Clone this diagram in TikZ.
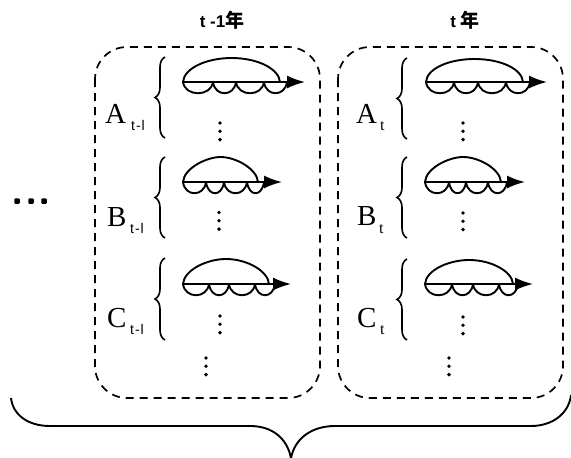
\documentclass[tikz,border=0pt]{standalone}
\usepackage{fontspec}
\setmainfont{Liberation Serif}
\newfontfamily\cjk{Noto Sans CJK SC}
\newfontfamily\hd{Liberation Sans}
\usetikzlibrary{decorations.pathreplacing,arrows.meta}
\tikzset{
  ink/.style={draw=black,line width=1.9pt},
  groupbox/.style={draw=black,line width=1.7pt,dash pattern=on 8pt off 6pt,rounded corners=32pt},
  bracemark/.style={draw=black,line width=1.6pt,decorate,decoration={brace,amplitude=10pt,mirror}},
  lab/.style={inner sep=0pt,font=\fontsize{29}{29}\selectfont,anchor=base west},
  sub/.style={inner sep=0pt,font=\hd\fontsize{14}{14}\selectfont,anchor=base west},
  subt/.style={inner sep=0pt,font=\fontsize{16}{16}\selectfont,anchor=base west},
  head/.style={inner sep=0pt,font=\hd\bfseries\fontsize{17}{17}\selectfont,anchor=center},
  dotm/.style={circle,fill=black,inner sep=0pt,minimum size=3.8pt},
  heavydot/.style={rectangle,rounded corners=1pt,fill=black,inner sep=0pt,minimum size=5.5pt}
}
\newcommand{\loopset}[6]{
  \draw[ink,-{Latex[length=18pt,width=13pt]}] (#1,#2) -- (#5,#2);
  \draw[ink] (#1,#2) .. controls (#1+1,#2-14) and (#1+24,#4) .. ({(#1+#3)/2},#4)
     .. controls (#3-22,#4) and (#3-1,#2-13) .. (#3,#2);
  \foreach \a/\b in {#6}{
    \draw[ink] (\a,#2) .. controls ({\a+2},#2+15) and ({\b-2},#2+15) .. (\b,#2);
  }
}
\newcommand{\vdotset}[2]{
  \node[dotm] at (#1,#2) {};
  \node[dotm] at (#1,#2+8.3) {};
  \node[dotm] at (#1,#2+16.6) {};
}
\begin{document}
\begin{tikzpicture}[x=1pt,y=-1pt]
\useasboundingbox (0,0) rectangle (571,458);
\node[head] (h1) at (222,20) {t -1{\cjk\fontsize{19}{19}\selectfont 年}};
\node[head] (h2) at (465,20) {t {\cjk\fontsize{19}{19}\selectfont 年}};
\draw[groupbox] (95,47) rectangle (320,398);
\draw[groupbox] (338,47) rectangle (563,398);
\draw[bracemark] (165,57) -- (165,138);
\draw[bracemark] (165,157) -- (165,238);
\draw[bracemark] (165,258) -- (165,340);
\loopset{183}{82}{280}{58}{305}{183/213,213/236,236/264,264/287}
\loopset{183}{182}{258}{157}{282}{183/206,206/224,224/247,247/264}
\loopset{183}{284}{269}{259}{291}{183/209,209/229,229/255,255/275}
\vdotset{220}{123}
\vdotset{219}{212.5}
\vdotset{220}{316}
\vdotset{206}{358}
\draw[bracemark] (407,58) -- (407,139);
\draw[bracemark] (407,157) -- (407,238);
\draw[bracemark] (407,259) -- (407,340);
\loopset{426}{82}{523}{59}{547}{426/454,454/478,478/506,506/530}
\loopset{425}{182}{501}{157}{525}{425/449,449/466,466/488,488/507}
\loopset{425}{284}{513}{260}{533}{425/452,452/473,473/499,499/518}
\vdotset{463}{123}
\vdotset{463}{213}
\vdotset{463}{317}
\vdotset{449}{358}
\node[lab] (a1) at (105,123) {A};
\node[sub] (a1s) at (131,130) {t\kern1pt-\kern1pt l};
\node[lab] (b1) at (107,226) {B};
\node[sub] (b1s) at (130,233) {t\kern1pt-\kern1pt l};
\node[lab] (c1) at (107,327) {C};
\node[sub] (c1s) at (130,334) {t\kern1pt-\kern1pt l};
\node[lab] (a2) at (356,123) {A};
\node[subt] (a2s) at (380,130) {t};
\node[lab] (b2) at (357,225) {B};
\node[subt] (b2s) at (379,233) {t};
\node[lab] (c2) at (357,327) {C};
\node[subt] (c2s) at (380,334) {t};
\node[heavydot] at (17,201) {};
\node[heavydot] at (31,201) {};
\node[heavydot] at (44,201) {};
\draw[ink] (11,398) .. controls (13,415) and (28,426) .. (50,426) -- (250,426)
  .. controls (272,426) and (287,438) .. (291,458)
  .. controls (295,438) and (312,426) .. (335,426) -- (531,426)
  .. controls (553,426) and (569,413) .. (571,395);
\end{tikzpicture}
\end{document}
